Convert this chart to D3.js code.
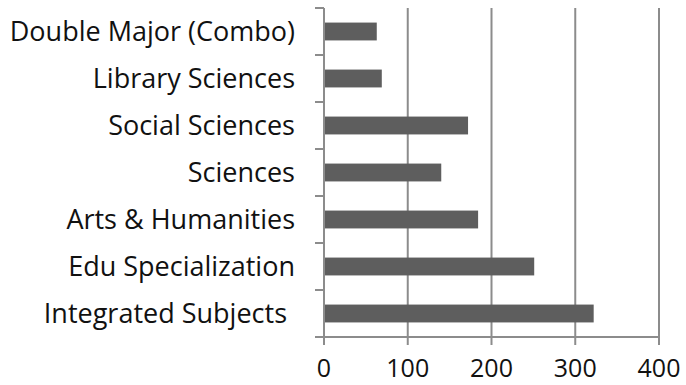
<!DOCTYPE html>
<html>
<head>
<meta charset="utf-8">
<script src="https://cdn.jsdelivr.net/npm/d3@7"></script>
<style>
  body { margin: 0; background: #fff; }
  text { font-family: "Open Sans", sans-serif; fill: #111; }
</style>
</head>
<body>
<div id="chart"></div>
<script>
// --- Data ---
const categories = [
  "Double Major (Combo)",
  "Library Sciences",
  "Social Sciences",
  "Sciences",
  "Arts & Humanities",
  "Edu Specialization",
  "Integrated Subjects"
];
const values = [63, 69, 172, 140, 184, 251, 322];
const xTicks = [0, 100, 200, 300, 400];

// --- Layout ---
const W = 686, H = 385;
const margin = { top: 8, right: 27, bottom: 48, left: 324 };
const width = W - margin.left - margin.right;
const height = H - margin.top - margin.bottom;
const gray = "#8c8c8c";

const svg = d3.select("#chart").append("svg")
  .attr("width", W).attr("height", H);
const g = svg.append("g")
  .attr("transform", `translate(${margin.left},${margin.top})`);

const x = d3.scaleLinear().domain([0, 400]).range([0, width]);
const y = d3.scaleBand().domain(categories).range([0, height]).paddingInner(0.62).paddingOuter(0.31);

// Grid lines
g.selectAll(".grid").data(xTicks.slice(1)).join("line")
  .attr("x1", d => x(d)).attr("x2", d => x(d))
  .attr("y1", 0).attr("y2", height)
  .attr("stroke", gray).attr("stroke-width", 2);

// Bars
g.selectAll(".bar").data(values).join("rect")
  .attr("x", x(0) + 1)
  .attr("y", (d, i) => y(categories[i]))
  .attr("width", d => x(d) - x(0) - 1)
  .attr("height", y.bandwidth())
  .attr("fill", "#5e5e5e");

// Left axis line and ticks at band boundaries
const step = y.step();
const bounds = d3.range(categories.length + 1).map(i => i * step);
g.append("line").attr("x1", 0).attr("x2", 0).attr("y1", 0).attr("y2", height)
  .attr("stroke", gray).attr("stroke-width", 2);
g.selectAll(".ytick").data(bounds).join("line")
  .attr("x1", -9).attr("x2", 0)
  .attr("y1", d => d).attr("y2", d => d)
  .attr("stroke", gray).attr("stroke-width", 2);

// Bottom axis
g.append("line").attr("x1", 0).attr("x2", width).attr("y1", height).attr("y2", height)
  .attr("stroke", gray).attr("stroke-width", 2);
g.selectAll(".xtick").data(xTicks).join("line")
  .attr("x1", d => x(d)).attr("x2", d => x(d))
  .attr("y1", height).attr("y2", height + 8)
  .attr("stroke", gray).attr("stroke-width", 2);
g.selectAll(".xlabel").data(xTicks).join("text")
  .attr("x", d => x(d)).attr("y", height + 40)
  .attr("text-anchor", "middle")
  .style("font-size", "25px")
  .text(d => d);

// Category labels
g.selectAll(".ylabel").data(categories).join("text")
  .attr("x", d => d === "Integrated Subjects" ? -37 : -29)
  .attr("y", d => y(d) + y.bandwidth() / 2)
  .attr("dy", "0.36em")
  .attr("text-anchor", "end")
  .style("font-size", "27px")
  .text(d => d);
</script>
</body>
</html>
